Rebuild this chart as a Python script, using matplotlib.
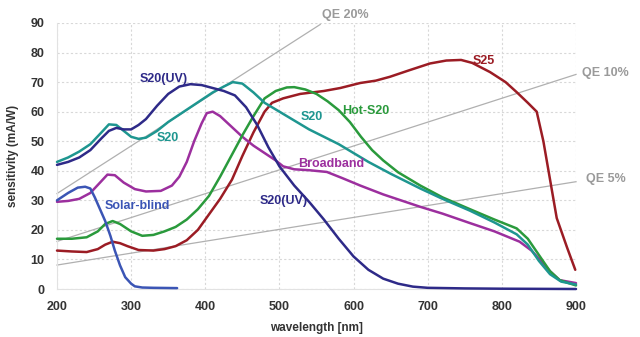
import matplotlib
matplotlib.use("Agg")
import matplotlib.pyplot as plt

plt.rcParams['font.family'] = ['Liberation Sans', 'DejaVu Sans']

# ---- data ----
s20uv_nm = [200, 215, 230, 245, 260, 270, 280, 290, 300, 310, 320, 335, 350, 365, 380, 395,
            410, 425, 440, 455, 470, 485, 500, 520, 540, 560, 580, 600, 620, 640, 660, 680,
            700, 750, 800, 850, 900]
s20uv_val = [42, 43, 44.5, 47, 51, 53.5, 54.5, 54, 54, 55.5, 57.5, 62, 66, 68.5, 69.3, 69,
             68, 67, 65.5, 61.5, 55.5, 48, 41.5, 35, 29.5, 23.5, 17, 11, 6.5, 3.5, 1.8, 0.8,
             0.4, 0.2, 0.1, 0.05, 0]

s20_nm = [200, 215, 230, 245, 260, 270, 280, 290, 300, 310, 320, 335, 350, 365, 380, 395, 410,
          425, 437, 450, 465, 480, 500, 520, 540, 560, 580, 600, 620, 650, 690, 720, 757, 790,
          820, 835, 850, 865, 880, 900]
s20_val = [43, 44.5, 46.5, 49, 53, 55.7, 55.5, 53.5, 51.5, 50.8, 51.2, 53.5, 56.5, 59, 61.5,
           64, 66.5, 68.5, 70, 69.5, 66.5, 63, 60, 57, 54, 51.5, 49, 46, 43, 39, 34, 30.5,
           26.5, 22.5, 18.5, 15, 9.5, 5, 2.5, 1.5]

hot_nm = [200, 220, 240, 255, 265, 275, 285, 300, 315, 330, 345, 360, 375, 390, 405, 420, 435,
          450, 465, 480, 495, 510, 520, 535, 550, 565, 580, 595, 610, 625, 640, 660, 690, 720,
          757, 790, 820, 835, 850, 865, 878, 890, 900]
hot_val = [17, 17, 17.5, 19.5, 22, 23, 22, 19.5, 18, 18.3, 19.5, 21, 23.5, 27, 31.5, 38, 45,
           52, 58.5, 64.5, 67, 68.2, 68.3, 67.5, 66, 63.5, 60.5, 56.5, 51.5, 47, 43.5, 39.5,
           35, 31, 27, 23.5, 20.5, 17, 11.5, 6, 3, 2, 1.2]

bb_nm = [200, 215, 230, 245, 258, 268, 278, 290, 305, 320, 340, 355, 365, 375, 385, 395, 402,
         410, 420, 435, 450, 465, 480, 495, 505, 520, 540, 564, 585, 609, 640, 690, 720, 757,
         790, 824, 840, 851, 865, 878, 900]
bb_val = [29.5, 29.8, 30.5, 32.5, 36, 38.7, 38.5, 36, 33.8, 33, 33.2, 35, 38, 43, 50, 56, 59.5,
          60, 58.5, 55, 51.5, 48.5, 46, 43.5, 41.5, 40.5, 40.2, 39.6, 37.5, 35, 32, 27.8, 25.5,
          22.3, 19.5, 16, 13, 10, 6, 3, 2]

s25_nm = [200, 220, 240, 255, 265, 275, 285, 295, 310, 330, 345, 360, 375, 390, 400, 410, 420,
          436, 450, 465, 480, 490, 505, 528, 560, 582, 609, 630, 649, 675, 703, 725, 745, 760,
          784, 805, 820, 835, 847, 856, 865, 874, 888, 899]
s25_val = [13, 12.7, 12.5, 13.5, 15, 16, 15.5, 14.5, 13.2, 13, 13.5, 14.5, 16.5, 20, 23.5, 27,
           30.5, 37, 45, 53, 60, 63, 64.5, 66, 67, 68, 69.7, 70.5, 71.8, 74, 76.3, 77.3, 77.5,
           76.5, 73.4, 70, 66.6, 63, 60, 50, 37, 24, 14, 6.5]

sb_nm = [200, 215, 228, 238, 245, 251, 258, 265, 272, 278, 285, 292, 300, 305, 315, 330, 362]
sb_val = [30, 32.5, 34.3, 34.6, 34, 31, 27, 23, 18, 13, 8, 4, 1.8, 0.9, 0.5, 0.4, 0.3]

# quantum-efficiency reference lines (end points)
qe_names = ["QE 20%", "QE 10%", "QE 5%"]
qe_nm = [[200, 555], [200, 900], [200, 900]]
qe_val = [[32.3, 89.5], [16.1, 72.6], [8.1, 36.3]]

x_ticks = [200, 300, 400, 500, 600, 700, 800, 900]
y_ticks = [0, 10, 20, 30, 40, 50, 60, 70, 80, 90]

# ---- figure ----
fig = plt.figure(figsize=(6.4, 3.37), dpi=100)
ax = fig.add_axes([57 / 640, 1 - 289 / 337, (576 - 57) / 640, (289 - 23) / 337])
ax.set_xlim(200, 900)
ax.set_ylim(0, 90)

ax.set_xticks(x_ticks)
ax.set_yticks(y_ticks)
ax.grid(True, color='#d8d8d8', linestyle=(0, (2, 2)), linewidth=0.8)
ax.set_axisbelow(True)
for side in ['top', 'right']:
    ax.spines[side].set_visible(False)
for side in ['left', 'bottom']:
    ax.spines[side].set_color('#e2e2e2')
    ax.spines[side].set_linewidth(0.8)
ax.tick_params(length=0, labelsize=9, labelcolor='#333333')
ax.tick_params(axis='y', pad=9)
ax.tick_params(axis='x', pad=9)
for lab in ax.get_xticklabels() + ax.get_yticklabels():
    lab.set_fontweight('bold')

ax.set_xlabel('wavelength [nm]', fontsize=8.5, fontweight='bold', color='#333333', labelpad=6)
ax.set_ylabel('sensitivity (mA/W)', fontsize=8.5, fontweight='bold', color='#333333', labelpad=8)

# QE lines
for (nm, val, name) in zip(qe_nm, qe_val, qe_names):
    ax.plot(nm, val, color='#b0b0b0', lw=0.9, clip_on=False, zorder=2)

qe_pos = [(557, 92.7), (908, 73.1), (913, 37.2)]
for name, (px, py) in zip(qe_names, qe_pos):
    ax.text(px, py, name, color='#9a9a9a', fontsize=9, fontweight='bold',
            ha='left', va='center', clip_on=False)

# curves
lw = 1.8
curves = [
    (s25_nm, s25_val, '#9b1c24'),
    (bb_nm, bb_val, '#9c2f9e'),
    (hot_nm, hot_val, '#2a9a3c'),
    (s20_nm, s20_val, '#1e9690'),
    (s20uv_nm, s20uv_val, '#2e2a88'),
    (sb_nm, sb_val, '#3b55b5'),
]
for nm, val, col in curves:
    ax.plot(nm, val, color=col, lw=lw, clip_on=False, zorder=3,
            solid_joinstyle='round', solid_capstyle='round')

# curve labels
labels = [
    ("S20(UV)", 344, 71.0, '#2e2a88'),
    ("S20", 350, 51.1, '#1e9690'),
    ("S20", 543, 58.2, '#1e9690'),
    ("Hot-S20", 617, 60.2, '#2a9a3c'),
    ("S25", 775, 77.1, '#9b1c24'),
    ("Broadband", 570, 42.3, '#9c2f9e'),
    ("S20(UV)", 506, 29.8, '#2e2a88'),
    ("Solar-blind", 308, 28.1, '#3b55b5'),
]
for t, x, y, c in labels:
    ax.text(x, y, t, color=c, fontsize=9, fontweight='bold', ha='center', va='center', zorder=4)

fig.savefig('out.png', dpi=100)
